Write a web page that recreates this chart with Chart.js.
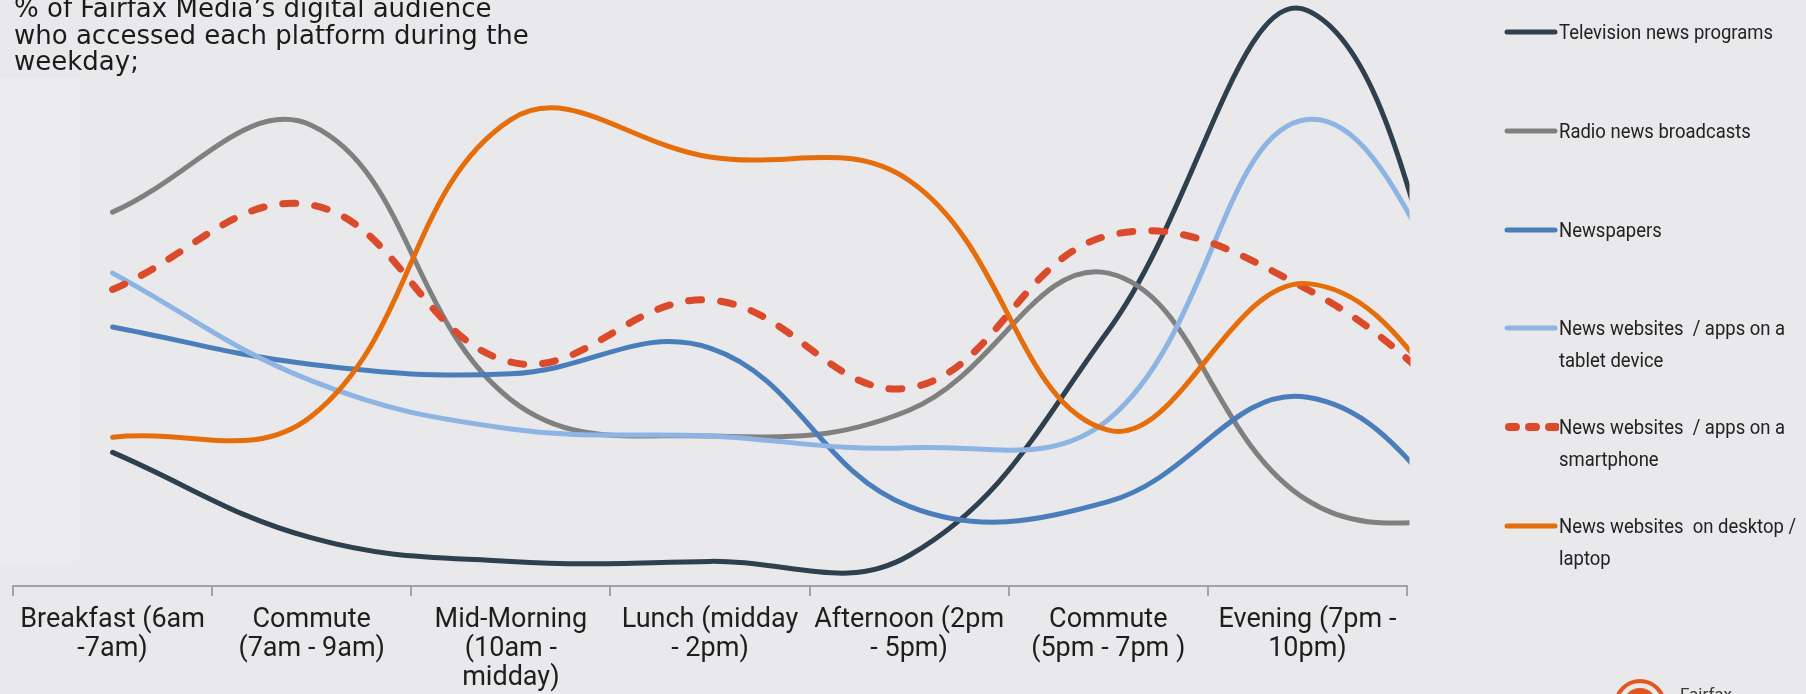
<!DOCTYPE html>
<html>
<head>
<meta charset="utf-8">
<script src="https://cdn.jsdelivr.net/npm/chart.js@4.4.1/dist/chart.umd.min.js"></script>
<style>
  html, body { margin: 0; padding: 0; background: #e9e9eb; }
  #wrap { position: relative; width: 1806px; height: 694px; overflow: hidden; background: #e9e9eb; }
  #panel { position: absolute; left: 0; top: 78px; width: 80px; height: 486px; background: #ececee; border-radius: 0 0 12px 0; }
  #chart { position: absolute; left: 0; top: 0; }
  #title { position: absolute; left: 14px; top: -5px; font: 26px/26.5px 'DejaVu Sans', sans-serif; color: #1b1b1b; }
  #legend { position: absolute; left: 1503px; top: 0; }
  .item { position: absolute; left: 0; }
  .item svg { position: absolute; left: 0; top: -5px; }
  .item span { position: absolute; left: 56px; top: -16px; white-space: pre; font: 21px/32px 'Roboto', sans-serif; color: #222;
               transform: scaleX(0.88); transform-origin: 0 0; }
  #logo { position: absolute; left: 1614px; top: 679px; width: 52px; height: 52px; border-radius: 50%;
          border: 4px solid #e2561f; box-sizing: border-box; background: #e9e9eb; }
  #logo::after { content: ''; position: absolute; left: 5px; top: 5px; right: 5px; bottom: 5px; border-radius: 50%; background: #e2561f; }
  #brand { position: absolute; left: 1680px; top: 684px; font: 17px 'Roboto', sans-serif; color: #3a3a3a; }
</style>
</head>
<body>
<div id="wrap">
  <div id="panel"></div>
  <canvas id="chart" width="1806" height="702"></canvas>
  <div id="title">% of Fairfax Media’s digital audience<br>who accessed each platform during the<br>weekday;</div>
  <div id="legend"></div>
  <div id="logo"></div>
  <div id="brand">Fairfax</div>
</div>
<script>
// time-of-day periods (the last one lies past the right edge of the plot)
const periods = [
    ['Breakfast (6am', '-7am)'],
    ['Commute', '(7am - 9am)'],
    ['Mid-Morning', '(10am -', 'midday)'],
    ['Lunch (midday', '- 2pm)'],
    ['Afternoon (2pm', '- 5pm)'],
    ['Commute', '(5pm - 7pm )'],
    ['Evening (7pm -', '10pm)'],
    ''
];
const shownPeriods = 7;

const seriesNames = [
    'Television news programs',
    'Radio news broadcasts',
    'Newspapers',
    'News websites  / apps on a\ntablet device',
    'News websites  / apps on a\nsmartphone',
    'News websites  on desktop /\nlaptop'
];

// % of audience per period
const tvNews       = [11.4, 4.1, 2.1, 2.1, 2.6, 21.8, 49.1, 6.5];
const radioNews    = [31.9, 39.3, 15.9, 12.8, 15.0, 26.7, 7.3, 5.4];
const newspapers   = [22.1, 18.9, 18.1, 20.3, 6.8, 7.2, 16.1, 1.9];
const tabletSites  = [26.7, 17.5, 13.4, 12.8, 11.8, 14.2, 39.8, 17.5];
const phoneSites   = [25.3, 32.5, 19.1, 24.4, 16.9, 29.9, 25.3, 12.0];
const desktopSites = [12.7, 14.5, 39.8, 36.6, 34.6, 13.3, 25.8, 10.5];

const seriesValues = [tvNews, radioNews, newspapers, tabletSites, phoneSites, desktopSites];
const seriesColors = ['#2e3f4e', '#808080', '#4a7ebb', '#8db4e3', '#db4a2b', '#e56d0b'];

const datasets = seriesValues.map((values, i) => ({
    label: seriesNames[i],
    data: values,
    borderColor: seriesColors[i],
    borderWidth: i === 4 ? 7 : 5,
    borderDash: i === 4 ? [13, 19] : [],
    borderCapStyle: 'round',
    order: seriesValues.length - i   // later series on top
}));

const chart = new Chart(document.getElementById('chart'), {
    type: 'line',
    data: { labels: periods, datasets: datasets },
    options: {
        responsive: false,
        animation: false,
        layout: { padding: { left: 13, right: 399, top: 0, bottom: 0 } },
        plugins: { legend: { display: false }, tooltip: { enabled: false } },
        elements: {
            point: { radius: 0 },
            line: { tension: 0.4, capBezierPoints: false }
        },
        scales: {
            x: {
                offset: true,
                // stop the axis after the evening period, lines keep running to the edge
                afterDataLimits: scale => { scale.max = shownPeriods - 1; },
                grid: { offset: true, drawOnChartArea: false, tickLength: 10, color: '#a3a3a3', lineWidth: 2 },
                border: { color: '#a3a3a3', width: 2 },
                ticks: {
                    autoSkip: false, minRotation: 0, maxRotation: 0, padding: 9.5,
                    color: '#1e1e1e',
                    font: { family: "'Roboto', sans-serif", size: 27, lineHeight: 1.074 }
                }
            },
            y: { display: false, min: 0, max: 50 }
        }
    }
});

// legend on the right, one row per series
const legendBox = document.getElementById('legend');
chart.data.datasets.forEach((ds, i) => {
    const item = document.createElement('div');
    item.className = 'item';
    item.style.top = (32 + i * 98.8) + 'px';
    const dashed = ds.borderDash.length > 0;
    item.innerHTML =
        `<svg width="56" height="10"><line x1="${dashed ? 6 : 4}" y1="5" x2="${dashed ? 54 : 52}" y2="5" stroke="${ds.borderColor}" ` +
        `stroke-width="${dashed ? 8 : 5}" stroke-linecap="round" ${dashed ? 'stroke-dasharray="7 13"' : ''}/></svg>` +
        `<span></span>`;
    item.querySelector('span').textContent = ds.label;
    legendBox.appendChild(item);
});
</script>
</body>
</html>
